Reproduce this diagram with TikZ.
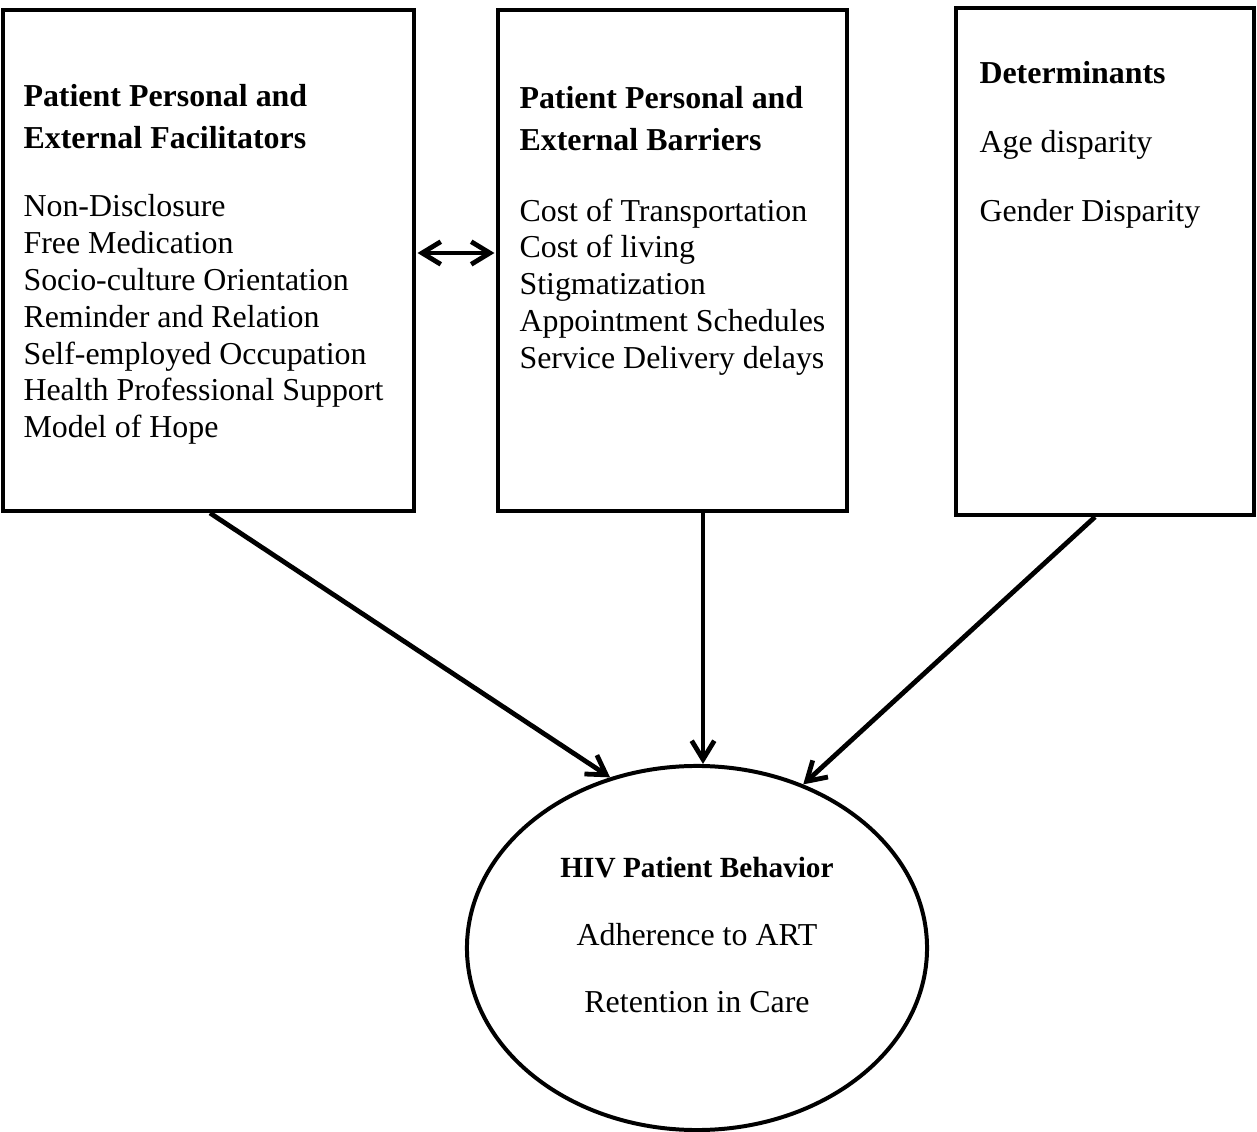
\documentclass[tikz,border=0pt]{standalone}
\usepackage{fontspec}
\setmainfont{Liberation Serif}
\usetikzlibrary{calc,positioning,arrows.meta,shapes.geometric}
\tikzset{
    factor box/.style={
        rectangle,
        draw=black,
        line width=1.5pt,
        inner sep=0pt,
    },
    outcome/.style={
        ellipse,
        draw=black,
        line width=1.5pt,
        inner sep=0pt,
    },
    head text/.style={
        anchor=north west,
        align=left,
        inner sep=0pt,
        font=\fontsize{12}{15.8}\selectfont\bfseries,
    },
    list text/.style={
        anchor=north west,
        align=left,
        inner sep=0pt,
        font=\fontsize{12}{13.85}\selectfont,
    },
    connector/.style={
        -{Straight Barb[length=7pt,width=8.5pt]},
        line width=1.8pt,
    },
    both connector/.style={
        connector,
        {Straight Barb[length=7pt,width=8.5pt]}-{Straight Barb[length=7pt,width=8.5pt]},
        shorten <=0.6pt,
        shorten >=0.6pt,
    },
}
\begin{document}
\begin{tikzpicture}[x=0.376pt,y=-0.376pt]
    \useasboundingbox (0,0) rectangle (1257,1132);
    % the three factor boxes and the outcome
    \node[factor box,minimum width=154.5pt,minimum height=188.4pt](F) at (208.5,260.5) {};
    \node[factor box,minimum width=131.2pt,minimum height=188.4pt](B) at (672.5,260.5) {};
    \node[factor box,minimum width=112pt,minimum height=190.6pt](D) at (1105,261.5) {};
    \node[outcome,minimum width=173pt,minimum height=136.9pt](HIV) at (697,948) {};
    % texts
    \node[head text](Fh) at (23,84) {Patient Personal and\\External Facilitators};
    \node[list text](Fl) at (23,194) {Non-Disclosure\\Free Medication\\Socio-culture Orientation\\Reminder and Relation\\Self-employed Occupation\\Health Professional Support\\Model of Hope};
    \node[head text](Bh) at (519,86) {Patient Personal and\\External Barriers};
    \node[list text](Bl) at (519,198) {Cost of Transportation\\Cost of living\\Stigmatization\\Appointment Schedules\\Service Delivery delays};
    \node[list text,font=\fontsize{12}{25.9}\selectfont](Dl) at (979,61) {\textbf{Determinants}\\Age disparity\\Gender Disparity};
    \node[anchor=north,align=center,inner sep=0pt,font=\fontsize{12}{25.4}\selectfont](Hl) at (697,857) {{\fontsize{11}{25.4}\selectfont\bfseries HIV Patient Behavior}\\Adherence to ART\\Retention in Care};
    % connectors
    \draw[both connector] ($(F.east)+(0,-7.5)$) -- ($(B.west)+(0,-7.5)$);
    \draw[connector] ($(F.south)+(1.5,0)$) -- (HIV.117);
    \draw[connector] ($(B.south)+(30.5,0)$) -- ($(HIV.north)+(6,0)$);
    \draw[connector] ($(D.south)+(-10,0)$) -- (HIV.57);
\end{tikzpicture}
\end{document}
